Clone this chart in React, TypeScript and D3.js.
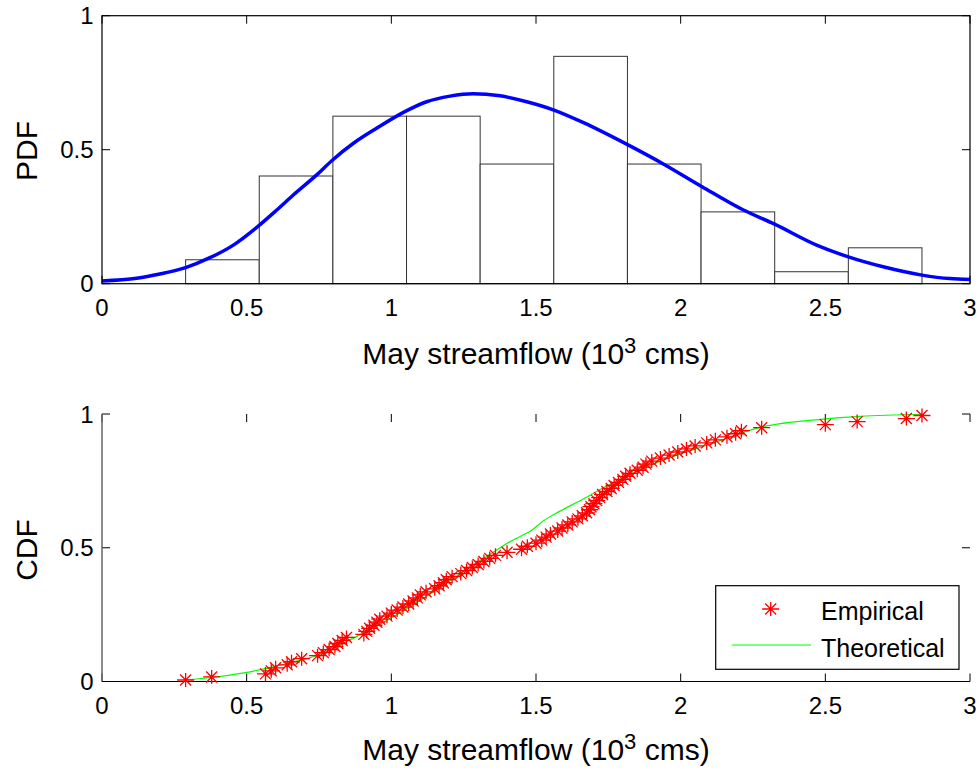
import React from "react";
import * as d3 from "d3";

// Sample of May streamflow (10^3 cms), 88 values
const sample: number[] = [
  0.289, 0.379,
  0.565, 0.585, 0.6, 0.64, 0.655, 0.69, 0.745, 0.765, 0.785,
  0.805, 0.815, 0.83, 0.845, 0.905, 0.915, 0.925, 0.94, 0.95, 0.96, 0.985, 1.0, 1.02, 1.04,
  1.06, 1.075, 1.09, 1.1, 1.12, 1.15, 1.165, 1.18, 1.19, 1.21, 1.24, 1.26, 1.28, 1.3,
  1.32, 1.34, 1.36, 1.4, 1.45, 1.47, 1.5, 1.52, 1.535, 1.55,
  1.575, 1.59, 1.61, 1.625, 1.645, 1.66, 1.675, 1.685, 1.69, 1.7, 1.71, 1.72, 1.73, 1.745, 1.76, 1.77, 1.785, 1.8, 1.81,
  1.825, 1.85, 1.87, 1.88, 1.9, 1.93, 1.96, 1.99, 2.02, 2.05,
  2.09, 2.12, 2.16, 2.19, 2.21, 2.28,
  2.5,
  2.61, 2.78, 2.834,
];

// Fitted PDF
const pdfX = [0, 0.12, 0.2, 0.289, 0.373, 0.454, 0.538, 0.604, 0.661, 0.742, 0.794, 0.869, 0.949, 1.05, 1.122, 1.203, 1.282, 1.376, 1.468, 1.562, 1.664, 1.818, 1.94, 2.074, 2.217, 2.323, 2.47, 2.577, 2.7, 2.834, 2.931, 3.0];
const pdfY = [0.01, 0.02, 0.036, 0.06, 0.097, 0.144, 0.213, 0.275, 0.331, 0.406, 0.459, 0.524, 0.58, 0.644, 0.679, 0.7, 0.709, 0.701, 0.679, 0.648, 0.601, 0.518, 0.447, 0.362, 0.275, 0.223, 0.144, 0.101, 0.063, 0.032, 0.019, 0.016];

// Theoretical CDF
const cdfX = [0.289, 0.38, 0.495, 0.58, 0.661, 0.75, 0.846, 0.926, 0.995, 1.099, 1.18, 1.272, 1.34, 1.41, 1.45, 1.479, 1.525, 1.58, 1.652, 1.733, 1.848, 1.963, 2.101, 2.274, 2.493, 2.62, 2.834];
const cdfY = [0.006, 0.015, 0.033, 0.052, 0.073, 0.1, 0.15, 0.194, 0.235, 0.303, 0.36, 0.428, 0.475, 0.522, 0.545, 0.561, 0.6, 0.635, 0.676, 0.724, 0.787, 0.837, 0.887, 0.95, 0.981, 0.991, 0.999];

const xTicks = [0, 0.5, 1, 1.5, 2, 2.5, 3];
const xTickLabels = ["0", "0.5", "1", "1.5", "2", "2.5", "3"];
const yTicks = [0, 0.5, 1];
const yTickLabels = ["0", "0.5", "1"];
const nBins = 10;

const FONT = "'Liberation Sans', Arial, sans-serif";

const X0 = 102, X1 = 970;
const top = { y0: 283.7, y1: 15.7 };
const bot = { y0: 681.5, y1: 414 };

export default function App() {
  const x = d3.scaleLinear().domain([0, 3]).range([X0, X1]);
  const yT = d3.scaleLinear().domain([0, 1]).range([top.y0, top.y1]);
  const yB = d3.scaleLinear().domain([0, 1]).range([bot.y0, bot.y1]);

  const n = sample.length;
  const [mn, mx] = d3.extent(sample) as [number, number];
  const w = (mx - mn) / nBins;
  const counts = new Array(nBins).fill(0);
  sample.forEach((v) => {
    const i = Math.min(nBins - 1, Math.floor((v - mn) / w + 1e-9));
    counts[i] += 1;
  });
  const bars = counts.map((c, i) => ({ x0: mn + i * w, x1: mn + (i + 1) * w, d: c / (n * w) }));

  const sorted = [...sample].sort((a, b) => a - b);
  const ecdf = sorted.map((v, i) => ({ x: v, y: (i + 0.5) / n }));

  const pdfLine = d3
    .line<number>()
    .x((_, i) => x(pdfX[i]))
    .y((d) => yT(d))
    .curve(d3.curveMonotoneX)(pdfY) as string;
  const cdfLine = d3
    .line<number>()
    .x((_, i) => x(cdfX[i]))
    .y((d) => yB(d))
    .curve(d3.curveMonotoneX)(cdfY) as string;

  const star = (cx: number, cy: number) =>
    `M${cx - 8.5},${cy}h17M${cx},${cy - 7}v14M${cx - 5.5},${cy - 5.5}l11,11M${cx - 5.5},${cy + 5.5}l11,-11`;

  const tickLen = 8;

  const xLabel = (baseline: number) => (
    <text x={(X0 + X1) / 2} y={baseline} textAnchor="middle" fontSize={30} fontFamily={FONT} fill="#000">
      May streamflow (10
      <tspan fontSize={22} dy={-11}>3</tspan>
      <tspan dy={11}> cms)</tspan>
    </text>
  );

  return (
    <svg width={980} height={770} style={{ position: "absolute", left: 0, top: 0, background: "#fff" }}>
      <rect x={0} y={0} width={980} height={770} fill="#fff" />
      {/* ---------- Top panel ---------- */}
      <g>
        {xTicks.map((t, i) => (
          <g key={"tx" + i}>
            <line x1={x(t)} x2={x(t)} y1={top.y1} y2={top.y1 + tickLen} stroke="#000" />
            <line x1={x(t)} x2={x(t)} y1={top.y0} y2={top.y0 - tickLen} stroke="#000" />
            <text x={x(t)} y={top.y0 + 32} textAnchor="middle" fontSize={24} fontFamily={FONT}>
              {xTickLabels[i]}
            </text>
          </g>
        ))}
        {yTicks.map((t, i) => (
          <g key={"ty" + i}>
            <line x1={X0} x2={X0 + tickLen} y1={yT(t)} y2={yT(t)} stroke="#000" />
            <line x1={X1} x2={X1 - tickLen} y1={yT(t)} y2={yT(t)} stroke="#000" />
            <text x={93.5} y={yT(t) + 8.5} textAnchor="end" fontSize={24} fontFamily={FONT}>
              {yTickLabels[i]}
            </text>
          </g>
        ))}
        {bars.map((b, i) => (
          <rect
            key={"b" + i}
            x={x(b.x0)}
            y={yT(b.d)}
            width={x(b.x1) - x(b.x0)}
            height={yT(0) - yT(b.d)}
            fill="#fff"
            stroke="#333"
            strokeWidth={1}
          />
        ))}
        <path d={pdfLine} fill="none" stroke="#0000ff" strokeWidth={3.5} />
        <rect x={X0} y={top.y1} width={X1 - X0} height={top.y0 - top.y1} fill="none" stroke="#000" strokeWidth={1.2} />
        {xLabel(363.5)}
        <text transform={`translate(37,151) rotate(-90)`} textAnchor="middle" fontSize={30} fontFamily={FONT}>
          PDF
        </text>
      </g>

      {/* ---------- Bottom panel ---------- */}
      <g>
        {xTicks.map((t, i) => (
          <g key={"bx" + i}>
            <line x1={x(t)} x2={x(t)} y1={bot.y0} y2={bot.y0 - tickLen} stroke="#000" />
            <line x1={x(t)} x2={x(t)} y1={bot.y1} y2={bot.y1 + tickLen} stroke="#000" />
            <text x={x(t)} y={bot.y0 + 32} textAnchor="middle" fontSize={24} fontFamily={FONT}>
              {xTickLabels[i]}
            </text>
          </g>
        ))}
        {yTicks.map((t, i) => (
          <g key={"by" + i}>
            <line x1={X0} x2={X0 + tickLen} y1={yB(t)} y2={yB(t)} stroke="#000" />
            <line x1={X1} x2={X1 - tickLen} y1={yB(t)} y2={yB(t)} stroke="#000" />
            <text x={93.5} y={yB(t) + 8.5} textAnchor="end" fontSize={24} fontFamily={FONT}>
              {yTickLabels[i]}
            </text>
          </g>
        ))}
        <line x1={X0} x2={X0} y1={bot.y1} y2={bot.y0} stroke="#666" strokeWidth={1.5} />
        <line x1={X0} x2={X1} y1={bot.y0} y2={bot.y0} stroke="#000" strokeWidth={1.2} />
        <path d={cdfLine} fill="none" stroke="#00ff00" strokeWidth={1.2} />
        {ecdf.map((p, i) => (
          <path key={"s" + i} d={star(x(p.x), yB(p.y))} stroke="#ff0000" strokeWidth={1.3} fill="none" />
        ))}
        {/* legend */}
        <rect x={715.7} y={585.7} width={243.3} height={83.6} fill="#fff" stroke="#000" strokeWidth={1.2} />
        <path d={star(770.7, 609)} stroke="#ff0000" strokeWidth={1.3} fill="none" />
        <line x1={732} x2={811} y1={645} y2={645} stroke="#00ff00" strokeWidth={1.2} />
        <text x={821} y={620} fontSize={25} fontFamily={FONT}>Empirical</text>
        <text x={821} y={657.3} fontSize={25} fontFamily={FONT}>Theoretical</text>
        {xLabel(760)}
        <text transform={`translate(37,550) rotate(-90)`} textAnchor="middle" fontSize={30} fontFamily={FONT}>
          CDF
        </text>
      </g>
    </svg>
  );
}
